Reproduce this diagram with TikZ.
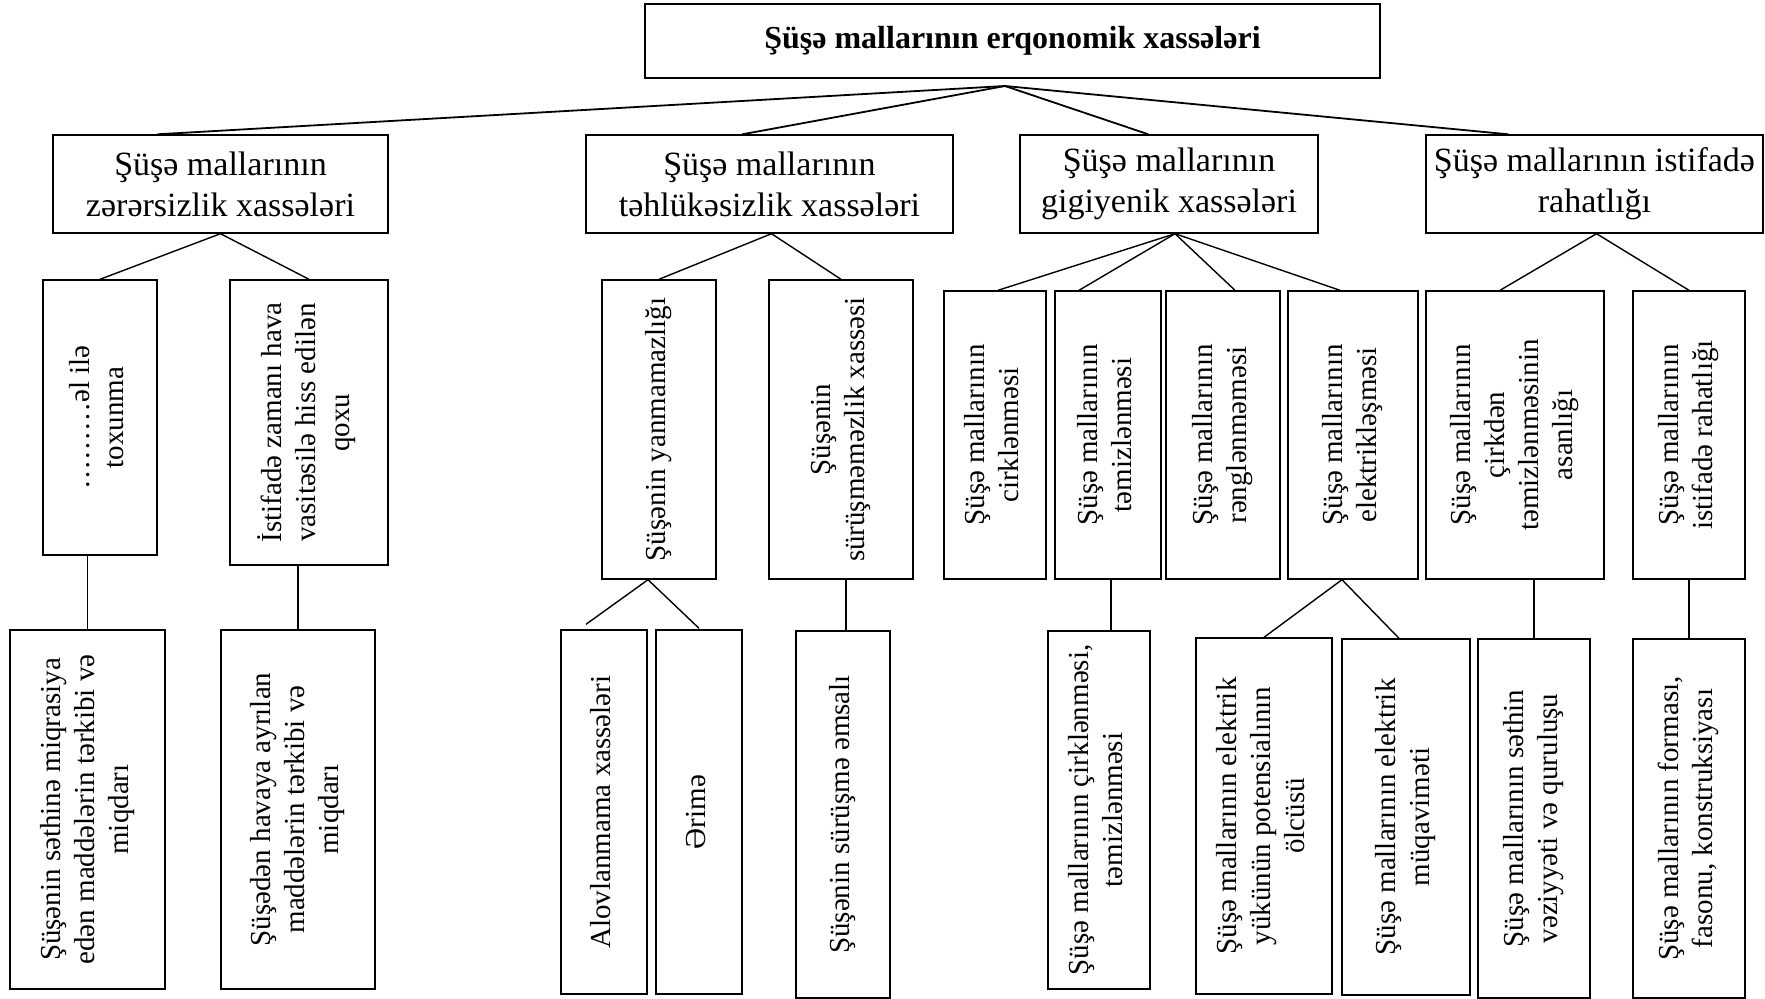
\documentclass[tikz,border=0pt]{standalone}
\usepackage{fontspec}
\setmainfont{Liberation Serif}
\usetikzlibrary{calc}

% vertical (rotated) multi-line label
\newcommand{\vlab}[1]{\rotatebox{90}{\begin{tabular}{@{}c@{}}#1\end{tabular}}}
% box from its corners: style, name, x1, y1, x2, y2, content
\newcommand{\placebox}[7]{%
  \node[#1, minimum width={(#5-#3)*1pt}, minimum height={(#6-#4)*1pt}] (#2)
    at ({(#3+#5)/2},{(#4+#6)/2}) {#7};}

\begin{document}
\begin{tikzpicture}[x=1pt,y=-1pt,
  box/.style={draw, line width=1.4pt, inner sep=0pt, fill=white},
  titlebox/.style={box, font=\bfseries\fontsize{32}{38}\selectfont},
  lvlone/.style={box, align=center, font=\fontsize{34}{41}\selectfont},
  vbox/.style={box, font=\fontsize{29}{34}\selectfont},
  link/.style={line width=1.4pt},
  mainlink/.style={line width=1.8pt}]

\useasboundingbox (0,0) rectangle (1765,999);
\fill[white] (0,0) rectangle (1765,999);

% root
\placebox{titlebox}{T}{645}{4}{1380}{78}{Şüşə mallarının erqonomik xassələri}

% first level
\placebox{lvlone}{A}{53}{135}{388}{233}{Şüşə mallarının\\zərərsizlik xassələri}
\placebox{lvlone}{B}{586}{135}{953}{233}{Şüşə mallarının\\təhlükəsizlik xassələri}
\placebox{lvlone}{C}{1020}{135}{1318}{233}{Şüşə mallarının\\gigiyenik xassələri}
\placebox{lvlone}{D}{1426}{135}{1763}{233}{Şüşə mallarının istifadə\\rahatlığı}

% second level
\placebox{vbox}{A1}{43}{280}{157}{555}{\vlab{………əl ilə\\toxunma}}
\placebox{vbox}{A2}{230}{280}{388}{565}{\vlab{İstifadə zamanı hava\\vasitəsilə hiss edilən\\qoxu}}
\placebox{vbox}{B1}{602}{280}{716}{579}{\vlab{Şüşənin yanmamazlığı}}
\placebox{vbox}{B2}{769}{280}{913}{579}{\vlab{Şüşənin\\sürüşməməzlik xassəsi}}
\placebox{vbox}{C1}{944}{291}{1046}{579}{\vlab{Şüşə mallarının\\cirklənməsi}}
\placebox{vbox}{C2}{1055}{291}{1161}{579}{\vlab{Şüşə mallarının\\təmizlənməsi}}
\placebox{vbox}{C3}{1166}{291}{1280}{579}{\vlab{Şüşə mallarının\\rənglənməməsi}}
\placebox{vbox}{C4}{1288}{291}{1418}{579}{\vlab{Şüşə mallarının\\elektrikləşməsi}}
\placebox{vbox}{D1}{1426}{291}{1604}{579}{\vlab{Şüşə mallarının\\çirkdən\\təmizlənməsinin\\asanlığı}}
\placebox{vbox}{D2}{1633}{291}{1745}{579}{\vlab{Şüşə mallarının\\istifadə rahatlığı}}

% third level
\placebox{vbox}{A1c}{10}{630}{165}{989}{\vlab{Şüşənin səthinə miqrasiya\\edən maddələrin tərkibi və\\miqdarı}}
\placebox{vbox}{A2c}{221}{630}{375}{989}{\vlab{Şüşədən havaya ayrılan\\maddələrin tərkibi və\\miqdarı}}
\placebox{vbox}{B1a}{561}{630}{647}{994}{\vlab{Alovlanmama xassələri}}
\placebox{vbox}{B1b}{656}{630}{742}{994}{\vlab{Ərimə}}
\placebox{vbox}{B2c}{796}{631}{890}{998}{\vlab{Şüşənin sürüşmə əmsalı}}
\placebox{vbox}{C2c}{1048}{631}{1150}{989}{\vlab{Şüşə mallarının çirklənməsi,\\təmizlənməsi}}
\placebox{vbox}{C4a}{1196}{638}{1332}{994}{\vlab{Şüşə mallarının elektrik\\yükünün potensialının\\ölcüsü}}
\placebox{vbox}{C4b}{1342}{639}{1470}{995}{\vlab{Şüşə mallarının elektrik\\müqaviməti}}
\placebox{vbox}{D1c}{1478}{639}{1590}{998}{\vlab{Şüşə mallarının səthin\\vəziyyəti və quruluşu}}
\placebox{vbox}{D2c}{1633}{639}{1745}{998}{\vlab{Şüşə mallarının forması,\\fasonu, konstruksiyası}}

% root to first level
\coordinate (apex) at (1005,86);
\draw[mainlink] (apex) -- ($(A.north west)+(105,0)$);
\draw[mainlink] (apex) -- ($(B.north west)+(157,0)$);
\draw[mainlink] (apex) -- ($(C.north west)+(129,0)$);
\draw[mainlink] (apex) -- ($(D.north west)+(83,0)$);

% first level to second level
\draw[link] (A1.north) -- (A.south) -- (A2.north);
\draw[link] (B1.north) -- ($(B.south)+(2,0)$) -- (B2.north);
\coordinate (capex) at ($(C.south)+(6,0)$);
\draw[link] (capex) -- ($(C1.north)+(3,0)$);
\draw[link] (capex) -- ($(C2.north)+(-29,0)$);
\draw[link] (capex) -- ($(C3.north)+(12,0)$);
\draw[link] (capex) -- ($(C4.north)+(-13,0)$);
\draw[link] ($(D1.north)+(-15,0)$) -- ($(D.south)+(2,0)$) -- (D2.north);

% second level to third level
\draw[link] (A1c.north) -- (A1c.north |- A1.south);
\draw[link] (A2c.north) -- (A2c.north |- A2.south);
\coordinate (bapex) at ($(B1.south)+(-11,0)$);
\draw[link] ($(B1a.north)+(-18,-5)$) -- (bapex) -- ($(B1b.north)+(0,-1)$);
\draw[link] ($(B2c.north)+(3,0)$) coordinate (b2foot) -- (b2foot |- B2.south);
\draw[link] ($(C2.south)+(3,0)$) coordinate (c2foot) -- (c2foot |- C2c.north);
\coordinate (c4apex) at ($(C4.south)+(-11,0)$);
\draw[link] (C4a.north) -- (c4apex) -- ($(C4b.north)+(-7,0)$);
\draw[link] (D1c.north) -- (D1c.north |- D1.south);
\draw[link] (D2c.north) -- (D2c.north |- D2.south);
\end{tikzpicture}
\end{document}
